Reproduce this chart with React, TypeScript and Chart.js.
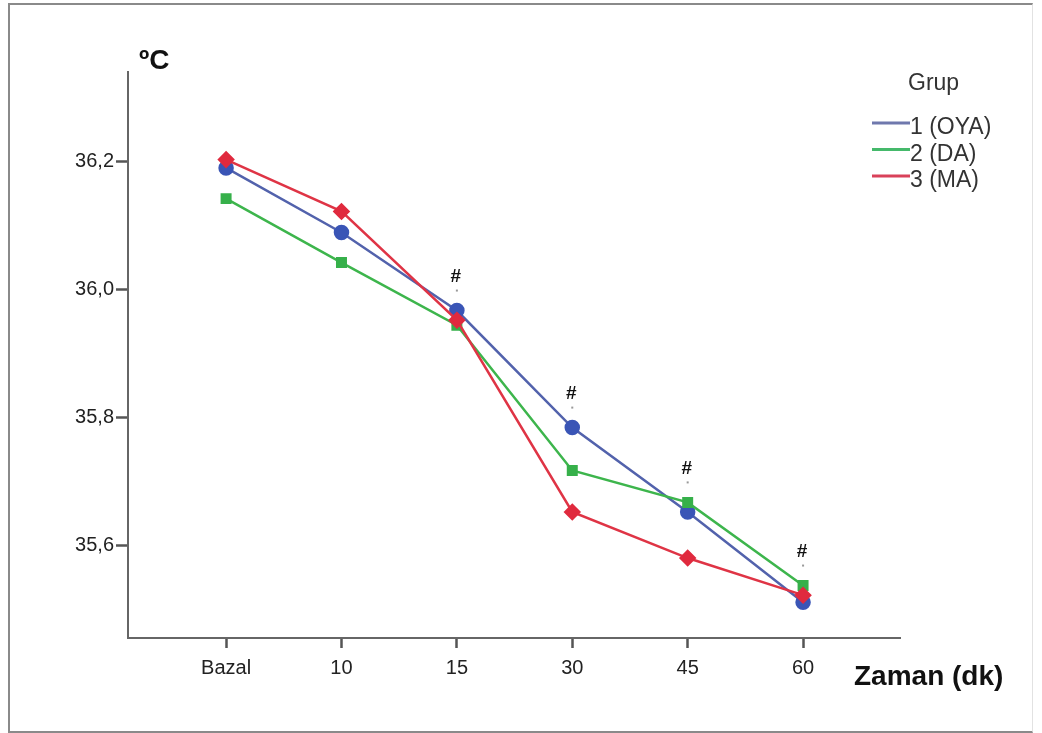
import React, { useEffect, useRef } from "react";
import { Chart, registerables } from "chart.js";

Chart.register(...registerables);

const categories = ["Bazal", "10", "15", "30", "45", "60"];
const oyaValues = [36.19, 36.089, 35.967, 35.784, 35.652, 35.511];
const daValues = [36.142, 36.042, 35.944, 35.717, 35.667, 35.537];
const maValues = [36.203, 36.122, 35.952, 35.652, 35.58, 35.522];
const seriesLabels = ["1 (OYA)", "2 (DA)", "3 (MA)"];
const yTickValues = [35.6, 35.8, 36.0, 36.2];
const hashCategories = ["15", "30", "45", "60"];

const FONT = "'Liberation Sans', Arial, sans-serif";

const legendColors = ["#6f78ad", "#45b96b", "#d9415a"];

const overlayPlugin = {
  id: "overlay",
  afterDatasetsDraw(chart: any) {
    const ctx = chart.ctx;
    const xs = chart.scales.x;
    const ys = chart.scales.y;
    ctx.save();
    // hash marks
    ctx.font = `bold 19px ${FONT}`;
    ctx.textAlign = "center";
    ctx.textBaseline = "middle";
    hashCategories.forEach((c) => {
      const i = categories.indexOf(c);
      let minY = Infinity;
      chart.data.datasets.forEach((ds: any) => {
        const py = ys.getPixelForValue(ds.data[i].y);
        if (py < minY) minY = py;
      });
      const px = xs.getPixelForValue(i);
      ctx.fillStyle = "#111";
      ctx.fillText("#", px - 1, minY - 34);
      ctx.fillStyle = "#999";
      ctx.fillRect(px - 1, minY - 21, 2, 2);
    });
    // axis titles
    ctx.fillStyle = "#111";
    ctx.font = `bold 28px ${FONT}`;
    ctx.textAlign = "left";
    ctx.fillText("ºC", 139, 61);
    ctx.font = `bold 28px ${FONT}`;
    ctx.fillText("Zaman (dk)", 854, 677);
    // legend
    ctx.fillStyle = "#333";
    ctx.font = `23px ${FONT}`;
    ctx.fillText("Grup", 908, 84);
    ctx.font = `23px ${FONT}`;
    seriesLabels.forEach((lab, k) => {
      const ty = 128 + k * 26.5;
      ctx.strokeStyle = legendColors[k];
      ctx.lineWidth = 3;
      ctx.beginPath();
      ctx.moveTo(872, ty - 5);
      ctx.lineTo(910, ty - 5);
      ctx.stroke();
      ctx.fillStyle = "#333";
      ctx.fillText(lab, 910, ty);
    });
    ctx.restore();
  },
};

export default function App() {
  const ref = useRef<HTMLCanvasElement | null>(null);
  useEffect(() => {
    if (!ref.current) return;
    const mk = (vals: number[]) => vals.map((v, i) => ({ x: i, y: v }));
    const chart = new Chart(ref.current, {
      type: "line",
      data: {
        datasets: [
          {
            label: seriesLabels[0],
            data: mk(oyaValues),
            borderColor: "#5262ac",
            backgroundColor: "#3a55b6",
            pointBackgroundColor: "#3a55b6",
            pointBorderColor: "#3a55b6",
            pointStyle: "circle",
            pointRadius: 6.5,
            borderWidth: 2.5,
            order: 2,
          },
          {
            label: seriesLabels[1],
            data: mk(daValues),
            borderColor: "#3db54c",
            backgroundColor: "#36b04a",
            pointBackgroundColor: "#36b04a",
            pointBorderColor: "#36b04a",
            pointStyle: "rect",
            pointRadius: 6,
            borderWidth: 2.5,
            order: 1,
          },
          {
            label: seriesLabels[2],
            data: mk(maValues),
            borderColor: "#df3445",
            backgroundColor: "#e02a3e",
            pointBackgroundColor: "#e02a3e",
            pointBorderColor: "#e02a3e",
            pointStyle: "rectRot",
            pointRadius: 7,
            borderWidth: 2.5,
            order: 0,
          },
        ],
      },
      options: {
        animation: false,
        responsive: false,
        layout: { padding: { left: 0, top: 72, right: 142, bottom: 0 } },
        plugins: { legend: { display: false }, tooltip: { enabled: false } },
        scales: {
          x: {
            type: "linear",
            min: -0.85,
            max: 5.84,
            afterBuildTicks: (s: any) => {
              s.ticks = categories.map((_, i) => ({ value: i }));
            },
            afterFit: (s: any) => {
              s.height = 95;
            },
            ticks: {
              callback: (v: any) => categories[Number(v)] ?? "",
              font: { family: FONT, size: 20 },
              color: "#222",
              padding: 8,
              maxRotation: 0,
              autoSkip: false,
            },
            grid: {
              drawOnChartArea: false,
              drawTicks: true,
              tickLength: 10,
              tickWidth: 2.5,
              tickColor: "#555",
            },
            border: { display: true, color: "#666", width: 2 },
          },
          y: {
            type: "linear",
            min: 35.455,
            max: 36.34,
            afterBuildTicks: (s: any) => {
              s.ticks = yTickValues.map((v) => ({ value: v }));
            },
            afterFit: (s: any) => {
              s.width = 128;
            },
            ticks: {
              callback: (v: any) => Number(v).toFixed(1).replace(".", ","),
              font: { family: FONT, size: 20 },
              color: "#222",
              padding: 2,
            },
            grid: {
              drawOnChartArea: false,
              drawTicks: true,
              tickLength: 12,
              tickWidth: 2.5,
              tickColor: "#555",
            },
            border: { display: true, color: "#666", width: 2 },
          },
        },
      },
      plugins: [overlayPlugin],
    });
    return () => chart.destroy();
  }, []);

  return (
    <div style={{ position: "fixed", left: 0, top: 0, width: 1042, height: 733, background: "#fff" }}>
      <canvas ref={ref} width={1042} height={733} style={{ position: "absolute", left: 0, top: 0 }} />
      <div
        style={{
          position: "absolute",
          left: 8,
          top: 3,
          width: 1022,
          height: 726,
          borderLeft: "2px solid #8a8a8a",
          borderTop: "2px solid #8a8a8a",
          borderBottom: "2px solid #8a8a8a",
          borderRight: "1px solid #e2e2e2",
          pointerEvents: "none",
        }}
      />
    </div>
  );
}
